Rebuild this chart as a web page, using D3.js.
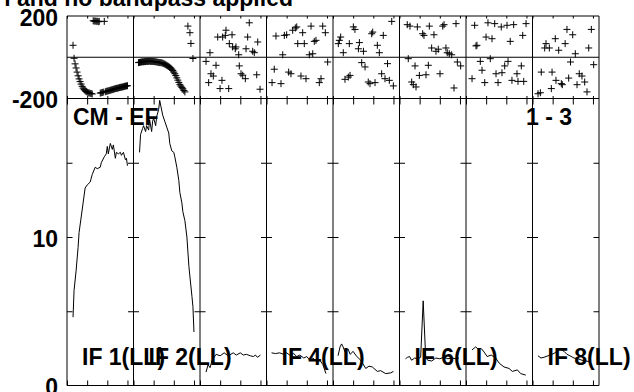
<!DOCTYPE html>
<html>
<head>
<meta charset="utf-8">
<script src="https://cdn.jsdelivr.net/npm/d3@7"></script>
<style>
  body { margin: 0; background: #fff; }
  svg text { font-family: "Liberation Sans", Arial, Helvetica, sans-serif; font-weight: bold; font-size: 23px; fill: #000; }
  .frame, .tick line { stroke: #000; stroke-width: 1; fill: none; }
</style>
</head>
<body>
<div id="container"></div>
<script>
/* DATA */
const titleText = "l and no bandpass applied";
const baselineLabel = "CM - EF";
const scanLabel = "1 - 3";
const ifLabels = ["IF 1(LL)", "IF 2(LL)", "", "IF 4(LL)", "", "IF 6(LL)", "", "IF 8(LL)"];
const phaseTicks = [-200, 200];
const ampTicks = [0, 10];
const ampMinorTicks = [5, 10, 15];
const chanTicks = [0, 20, 40, 60];

/* amplitude per IF: channel, amplitude */
const amp1Ch = [6,7,9,11,12,18,20,23,25,28,30,33,34,37,39,40,41,43,45,46,48,49,51,53,54,56,58,59,60];
const amp1 = [4.6,6.4,7.7,9.3,10.3,13.3,13.5,13.7,14.2,14.7,14.6,14.7,15.0,15.4,15.6,16.1,15.6,16.3,15.9,16.2,15.3,15.7,15.6,15.7,15.5,15.7,15.2,15.3,14.8];
const amp2Ch = [6,7,9,10,12,13,15,16,18,19,20,22,23,25,26,29,31,33,35,36,38,40,41,43,45,46,48,49,51,53,55,58,59,60];
const amp2 = [15.7,16.9,17.3,17.5,17.1,17.5,17.2,17.9,17.1,17.8,18.0,17.5,18.1,18.6,19.2,18.2,17.8,17.4,17.0,16.3,15.8,15.7,15.4,14.7,13.8,13.0,12.3,11.7,11.1,10.0,8.0,6.0,5.3,3.6];
const amp3Ch = [6,8,10,12,13,16,20,24,28,33,36,40,43,46,50,53,55,57,60];
const amp3 = [0.9,1.4,1.2,1.7,1.8,2.1,2.0,2.2,2.0,2.2,2.05,2.2,2.05,2.1,2.0,1.95,2.05,1.9,2.05];
const amp4Ch = [5,9,13,17,20,23,27,30,33,37,40,43,46,50,53,56,59];
const amp4 = [2.2,2.15,2.2,2.1,2.2,2.05,2.15,1.95,2.05,1.85,1.95,1.7,1.85,1.6,1.7,1.4,0.8];
const amp5Ch = [5,7,8.5,10,12,15,17,20,23,27.5,32.5,35.7,39,44,47.3,52.3,57.3,60];
const amp5 = [2.0,2.6,2.8,2.6,2.25,2.45,2.1,2.3,2.0,1.7,1.15,1.3,1.25,0.95,1.0,0.8,0.85,0.95];
const amp6Ch = [6,8,10,12,15,18,21,23.5,26,28,32,36,40,44,48,52,56,59];
const amp6 = [1.8,1.9,1.95,1.7,1.85,1.8,1.9,5.7,1.9,1.7,1.65,1.85,1.8,1.9,1.8,1.85,1.8,1.85];
const amp7Ch = [6,9.6,12,15,18,21,25,29.5,33,37.7,42.7,46,51,54.3,59.3];
const amp7 = [2.4,2.6,2.45,2.5,2.25,1.95,2.05,1.85,1.5,1.25,1.15,0.95,1.05,0.8,0.7];
const amp8Ch = [5.5,8.4,11.4,15.4,19.4,22.3,25.3,28.3,31.3,34.2,37.2,41.2,45.2,49.1,53.1,57.1];
const amp8 = [2.0,1.85,1.9,2.0,2.1,2.2,2.4,2.45,2.3,2.1,2.0,1.85,1.8,1.7,1.65,1.6];

/* phase per IF: channel, phase (deg) */
const ph1Ch = d3.range(6, 61);
const ph1 = [58,-5,-32,-52,-72,-90,-105,-118,-130,-141,-150,-157,-162,-166,-169,-172,-173,-175,-176,-178,
  177,175,176,174,175,172,174,-174,-172,-171,-169,174,-167,-165,-164,-163,-161,-160,-158,-157,
  -155,-154,-152,-151,-150,-149,-147,-146,-145,-144,-143,-141,-140,-139,-138];
const ph2Ch = d3.range(5, 52).concat([54, 56, 57, 59]);
const ph2 = [-26,-25,-24,-23,-22,-22,-21,-21,-20,-20,-20,-19,-20,-20,-20,-21,-21,-22,-23,-24,-25,-26,-26,
  -27,-29,-31,-33,-36,-39,-42,-45,-49,-53,-58,-64,-72,-80,-89,-100,-111,-122,-133,-140,-146,-153,-161,-168,
  151,119,67,-6];
const ph3Ch = [48.9,25.8,17.6,22.5,25.1,31.8,47.3,57.3,29.1,32.4,35,35.7,45.7,52.3,53.9,38.4,9.9,6,15.9,39,10.9,13.2,40.7,42.4,45,56.3,21.8,8.6,19.9,28.5,59.6];
const ph3 = [167,131,98,98,106,109,98,74,66,50,41,50,41,29,22,12,22,-20,-39,-42,-80,-91,-80,-87,-104,-85,-112,-123,-152,-152,-155];
const ph4Ch = [9.4,17.7,20,26,28.6,30,35.9,44.2,55.8,58.4,31,37.5,47.4,49.1,16.1,42.5,45.9,60.7,7.7,22,24.3,34.2,39.2,54.1,52.4,5.5,14.4];
const ph4 = [103,106,109,131,142,147,119,151,151,119,66,66,77,82,12,12,17,-23,-58,-72,-80,-91,-104,-104,-123,-123,-128];
const ph5Ch = [58.3,20.2,21.8,39.4,38.4,49.9,7.6,6.3,5.3,16.2,26.2,25.2,30.2,44,46,10.2,28.5,31.8,54.1,48.3,51.6,55.9,59.9,11.9,16.9,15.2,35,36.7,41.7];
const ph5 = [174,147,135,122,114,106,98,82,66,66,71,41,29,58,22,22,-26,-47,-31,-80,-104,-112,-139,-107,-88,-96,-120,-128,-123];
const ph6Ch = [7.7,10.4,17.7,29.6,42.9,44.2,56.1,23,24.3,34.2,31.9,36.2,38.5,46.1,47.4,49.4,51.8,8.7,57.4,60.7,15.4,28.6,40.2,19.7,26.3,12.1,16.4,54.1,13.7];
const ph6 = [158,151,147,151,151,158,163,114,106,109,45,29,39,45,22,17,12,-7,-23,-42,-42,-39,-80,-88,-85,-120,-144,-149,-133];
const ph7Ch = [8.6,21.8,28.5,35,40.7,47.3,59.6,19.9,25.8,56.3,43.9,10.9,9.9,14.2,24.1,41.7,38.4,54.9,15.9,29.8,35.7,50.6,6,45.6,51.6,57.3,18.6,31.8];
const ph7 = [155,167,163,147,155,158,163,98,90,106,77,58,55,-20,-7,-20,-42,-42,-63,-80,-75,-80,-104,-112,-117,-117,-123,-123];
const ph8Ch = [34.2,39.9,58.4,22.6,13.4,32.4,12.1,16.7,26,55.8,42.5,60.7,37.7,8.7,19.4,46.4,49.1,23.3,28.6,35.9,51.8,44.2,18.7,7.8,5.5,54.1,29.6];
const ph8 = [135,109,135,90,66,66,45,45,34,45,17,-36,-23,-72,-72,-80,-91,-112,-128,-101,-120,-133,-152,-172,-177,-168,-133];

const ampCh = [amp1Ch, amp2Ch, amp3Ch, amp4Ch, amp5Ch, amp6Ch, amp7Ch, amp8Ch];
const ampVal = [amp1, amp2, amp3, amp4, amp5, amp6, amp7, amp8];
const phCh = [ph1Ch, ph2Ch, ph3Ch, ph4Ch, ph5Ch, ph6Ch, ph7Ch, ph8Ch];
const phVal = [ph1, ph2, ph3, ph4, ph5, ph6, ph7, ph8];

/* LAYOUT */
const W = 634, H = 392;
const left = 67, right = 599;
const phTop = 16, phBot = 98.5, ampBot = 385.5;
const nPanels = 8;
const pw = (right - left) / nPanels;

const svg = d3.select("#container").append("svg")
    .attr("width", W)
    .attr("height", H);

/* SCALES */
const yPh = d3.scaleLinear().domain([-200, 200]).range([phBot, phTop]);
const yAmp = d3.scaleLinear().domain([0, 10]).range([ampBot, 237]);

/* TITLE (cut off at top in the original) */
svg.append("text")
    .attr("x", 293)
    .attr("y", 6)
    .style("text-anchor", "end")
    .text(titleText);

/* PANELS */
for (let i = 0; i < nPanels; i++) {
  const x0 = left + i * pw;
  const x = d3.scaleLinear().domain([0, 66]).range([x0, x0 + pw]);
  const g = svg.append("g");

  // zero phase line
  g.append("line").attr("class", "frame")
      .attr("x1", x0).attr("x2", x0 + pw)
      .attr("y1", yPh(0)).attr("y2", yPh(0));

  // channel ticks
  g.append("g").attr("transform", "translate(0," + ampBot + ")")
      .call(d3.axisBottom(x).tickValues(chanTicks).tickSize(-5).tickFormat(""))
      .select(".domain").remove();
  g.append("g").attr("transform", "translate(0," + phBot + ")")
      .call(d3.axisTop(x).tickValues(chanTicks).tickSize(-6).tickFormat(""))
      .select(".domain").remove();
  g.append("g").attr("transform", "translate(0," + phBot + ")")
      .call(d3.axisBottom(x).tickValues(chanTicks).tickSize(-2.5).tickFormat(""))
      .select(".domain").remove();
  g.append("g").attr("transform", "translate(0," + phTop + ")")
      .call(d3.axisTop(x).tickValues(chanTicks).tickSize(-2.5).tickFormat(""))
      .select(".domain").remove();

  // amplitude ticks on both sides
  g.append("g").attr("transform", "translate(" + x0 + ",0)")
      .call(d3.axisLeft(yAmp).tickValues(ampMinorTicks).tickSize(-5.5).tickFormat(""))
      .select(".domain").remove();
  g.append("g").attr("transform", "translate(" + (x0 + pw) + ",0)")
      .call(d3.axisRight(yAmp).tickValues(ampMinorTicks).tickSize(-5.5).tickFormat(""))
      .select(".domain").remove();

  // amplitude line
  const pts = ampCh[i].map((c, k) => [c, ampVal[i][k]]);
  g.append("path")
      .datum(pts)
      .attr("fill", "none")
      .attr("stroke", "#000")
      .attr("stroke-width", 1)
      .attr("d", d3.line().x(d => x(d[0])).y(d => yAmp(d[1])));

  // phase crosses
  g.selectAll(".cross")
    .data(phCh[i].map((c, k) => [c, phVal[i][k]]))
    .enter().append("path")
      .attr("class", "cross")
      .attr("transform", d => "translate(" + x(d[0]) + "," + yPh(d[1]) + ")")
      .attr("d", "M-3.5,0H3.5M0,-3.5V3.5")
      .attr("stroke", "#000")
      .attr("stroke-width", 1);
}

/* FRAME LINES */
for (let i = 0; i <= nPanels; i++) {
  svg.append("line").attr("class", "frame")
      .attr("x1", left + i * pw).attr("x2", left + i * pw)
      .attr("y1", phTop).attr("y2", ampBot);
}
[phTop, phBot, ampBot].forEach(yy => {
  svg.append("line").attr("class", "frame")
      .attr("x1", left).attr("x2", right)
      .attr("y1", yy).attr("y2", yy);
});

/* Y AXIS LABELS (plain hyphen for negatives, as in the original) */
const axPh = svg.append("g").attr("transform", "translate(" + left + ",0)")
    .call(d3.axisLeft(yPh).tickValues(phaseTicks).tickSize(0).tickPadding(9).tickFormat(d => String(d)));
axPh.select(".domain").remove();
const axAmp = svg.append("g").attr("transform", "translate(" + left + ",0)")
    .call(d3.axisLeft(yAmp).tickValues(ampTicks).tickSize(0).tickPadding(9).tickFormat(d => String(d)));
axAmp.select(".domain").remove();
svg.selectAll(".tick text")
    .attr("dy", "0.4em")
    .style("font-size", "23px")
    .style("font-family", "'Liberation Sans', Arial, sans-serif")
    .style("font-weight", "bold");

/* PANEL LABELS */
svg.append("text").attr("x", 73).attr("y", 125).text(baselineLabel);
svg.append("text").attr("x", 526).attr("y", 125).text(scanLabel);
ifLabels.forEach((lab, i) => {
  if (!lab) return;
  svg.append("text")
      .attr("x", left + i * pw + 15)
      .attr("y", 365)
      .text(lab);
});
</script>
</body>
</html>
